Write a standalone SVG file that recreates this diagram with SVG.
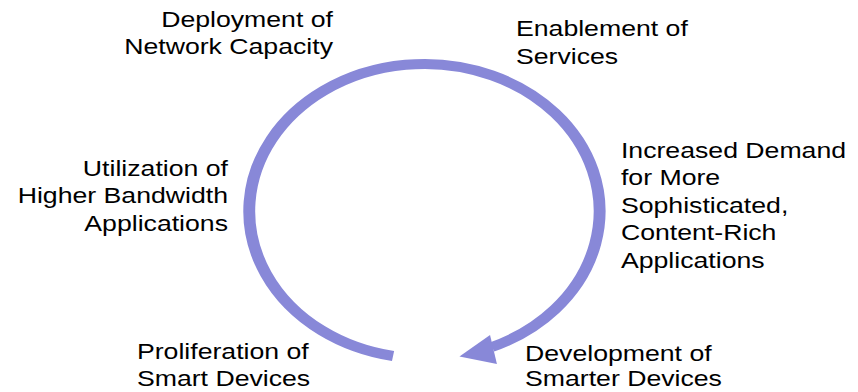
<svg xmlns="http://www.w3.org/2000/svg" width="858" height="392" viewBox="0 0 858 392">
  <style>
    .lbl { font-family: "Liberation Sans", Arial, sans-serif; font-size: 22.4px; fill: #000; }
    .end { text-anchor: end; }
    .cycle { fill: none; stroke: #8888d8; stroke-width: 10; }
    .head { fill: #8888d8; }
  </style>
  <rect width="858" height="392" fill="#ffffff"/>
  <!-- whole drawing is laid out on a grid stretched 1.19x horizontally -->
  <g transform="scale(1.19 1)">
    <g id="connectors">
      <path class="cycle" d="M330.3,356 A147.2,147.2 0 1 1 413.4,347"/>
      <polygon class="head" points="386.1,356.5 411.8,335 417.6,364"/>
    </g>
    <g id="node-deployment">
      <text class="lbl end" x="279.8" y="27">Deployment of</text>
      <text class="lbl end" x="279.8" y="54">Network Capacity</text>
    </g>
    <g id="node-enablement">
      <text class="lbl" x="433.6" y="36">Enablement of</text>
      <text class="lbl" x="433.6" y="64">Services</text>
    </g>
    <g id="node-demand">
      <text class="lbl" x="521.8" y="158">Increased Demand</text>
      <text class="lbl" x="521.8" y="185.5">for More</text>
      <text class="lbl" x="521.8" y="213">Sophisticated,</text>
      <text class="lbl" x="521.8" y="240.5">Content-Rich</text>
      <text class="lbl" x="521.8" y="268">Applications</text>
    </g>
    <g id="node-development">
      <text class="lbl" x="441.2" y="361">Development of</text>
      <text class="lbl" x="441.2" y="386">Smarter Devices</text>
    </g>
    <g id="node-proliferation">
      <text class="lbl" x="115.1" y="359">Proliferation of</text>
      <text class="lbl" x="115.1" y="386">Smart Devices</text>
    </g>
    <g id="node-utilization">
      <text class="lbl end" x="191.6" y="176">Utilization of</text>
      <text class="lbl end" x="191.6" y="203.5">Higher Bandwidth</text>
      <text class="lbl end" x="191.6" y="231">Applications</text>
    </g>
  </g>
</svg>
